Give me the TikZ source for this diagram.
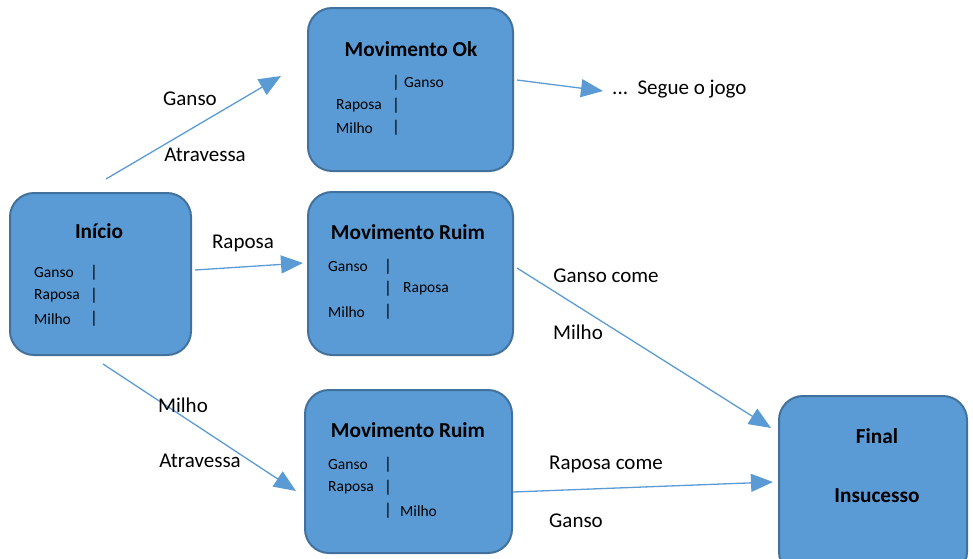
\documentclass[tikz,border=0pt]{standalone}
\usepackage{fontspec}
\setmainfont{Carlito}
\usetikzlibrary{arrows.meta}
\definecolor{boxfill}{HTML}{5B9BD5}
\definecolor{boxline}{HTML}{41719C}
\tikzset{
  stage/.style={draw=boxline, fill=boxfill, line width=2pt, rounded corners=24pt, inner sep=0pt},
  title/.style={font=\fontsize{21.3}{25}\selectfont\bfseries},
  item/.style={anchor=west, inner sep=0pt, font=\fontsize{15.5}{18}\selectfont},
  bar/.style={inner sep=0pt, font=\fontsize{17}{20}\selectfont},
  lbl/.style={inner sep=0pt, font=\fontsize{21}{25}\selectfont},
  flow/.style={draw=boxfill, line width=1.3pt, -{Triangle[length=22pt,width=18pt]}}
}
\begin{document}
\begin{tikzpicture}[x=1pt,y=-1pt]
  \useasboundingbox (0,0) rectangle (973,558);

  % Inicio
  \node[stage, minimum width=181pt, minimum height=162pt] (inicio) at (100.5,274) {};
  \node[title] (inicioT) at (99,231) {Início};
  \node[item] (i1) at (34,273) {Ganso};
  \node[item] (i2) at (34,296) {Raposa};
  \node[item] (i3) at (34,319) {Milho};
  \node[bar] (ib1) at (94,273) {|};
  \node[bar] (ib2) at (94,296) {|};
  \node[bar] (ib3) at (94,319) {|};

  % Movimento Ok
  \node[stage, minimum width=205pt, minimum height=163pt] (ok) at (410.5,89.5) {};
  \node[title] (okT) at (411,49) {Movimento Ok};
  \node[bar] (ob1) at (396,83) {|};
  \node[item] (o1) at (404,83) {Ganso};
  \node[item] (o2) at (336,106) {Raposa};
  \node[bar] (ob2) at (396,106) {|};
  \node[item] (o3) at (336,128) {Milho};
  \node[bar] (ob3) at (396,128) {|};

  % Movimento Ruim (Raposa)
  \node[stage, minimum width=205pt, minimum height=163pt] (ruimA) at (410.5,273.5) {};
  \node[title] (ruimAT) at (408,232) {Movimento Ruim};
  \node[item] (a1) at (328,267) {Ganso};
  \node[bar] (ab1) at (388,267) {|};
  \node[bar] (ab2) at (388,289) {|};
  \node[item] (a2) at (403,289) {Raposa};
  \node[item] (a3) at (328,312) {Milho};
  \node[bar] (ab3) at (388,312) {|};

  % Movimento Ruim (Milho)
  \node[stage, minimum width=207pt, minimum height=163pt] (ruimB) at (408.5,471.5) {};
  \node[title] (ruimBT) at (408,430) {Movimento Ruim};
  \node[item] (b1) at (328,465) {Ganso};
  \node[bar] (bb1) at (388,465) {|};
  \node[item] (b2) at (328,488) {Raposa};
  \node[bar] (bb2) at (388,488) {|};
  \node[bar] (bb3) at (388,511) {|};
  \node[item] (b3) at (400,511) {Milho};

  % Final
  \node[stage, minimum width=188pt, minimum height=180pt] (final) at (873,486) {};
  \node[title] (finalT) at (877,436) {Final};
  \node[title] (finalI) at (877,496) {Insucesso};

  % Arrow ends
  \coordinate (s1) at (106,179);  \coordinate (e1) at (281,76);
  \coordinate (s2) at (195,270);  \coordinate (e2) at (303,263);
  \coordinate (s3) at (103,364);  \coordinate (e3) at (296,491);
  \coordinate (s4) at (517,80);   \coordinate (e4) at (603,91);
  \coordinate (s5) at (517,268);  \coordinate (e5) at (771,428);
  \coordinate (s6) at (513,492);  \coordinate (e6) at (773,482);

  % Relationships
  \draw[flow] (s1) -- (e1);
  \node[lbl] (l1a) at (190,99) {Ganso};
  \node[lbl] (l1b) at (205,155) {Atravessa};
  \draw[flow] (s2) -- (e2);
  \node[lbl] (l2) at (243,243) {Raposa};
  \draw[flow] (s3) -- (e3);
  \node[lbl] (l3a) at (183,405) {Milho};
  \node[lbl] (l3b) at (200,461) {Atravessa};
  \draw[flow] (s4) -- (e4);
  \node[lbl, anchor=west] (l4) at (612,89) {...\ \ Segue o jogo};
  \draw[flow] (s5) -- (e5);
  \node[lbl] (l5a) at (606,276) {Ganso come};
  \node[lbl] (l5b) at (578,332) {Milho};
  \draw[flow] (s6) -- (e6);
  \node[lbl] (l6a) at (606,464) {Raposa come};
  \node[lbl] (l6b) at (576,521) {Ganso};
\end{tikzpicture}
\end{document}
